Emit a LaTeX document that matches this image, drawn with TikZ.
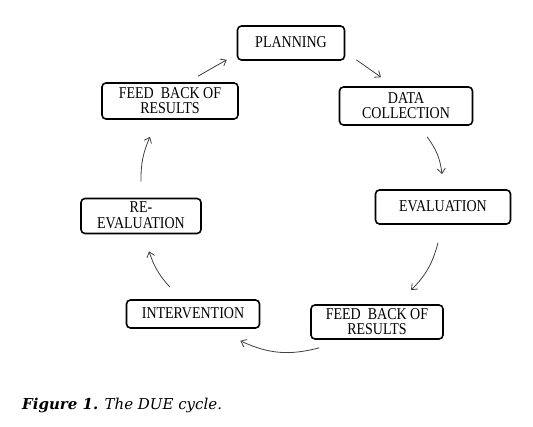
\documentclass[tikz,border=0pt]{standalone}
\usepackage{fontspec}
\setmainfont{Liberation Serif}
\newfontfamily\capfont{DejaVu Serif}
\usepackage{graphicx}
\usepackage{tikz}
\usetikzlibrary {arrows.meta, positioning}
\newcommand*{\stagetext}[1]{\raisebox{-1.5pt}[\height][\depth]{\scalebox{1}[1.18]{\begin{tabular}{@{}c@{}}#1\end{tabular}}}}

\begin{document}
\begin{tikzpicture}[x=1pt,y=-1pt,>={Straight Barb[length=5pt,width=8pt]},
      every node/.style={font=\fontsize{14}{12.6}\selectfont},
      stage/.style={draw,line width=1.6pt,rounded corners=4pt,align=center,inner sep=0pt},
      flow/.style={->,draw=black!75,line width=0.8pt}]
      \useasboundingbox (0,0) rectangle (533,427);
      \node[stage, minimum width=107pt, minimum height=34pt] (plan)   at (291,43)  {\stagetext{PLANNING}};
      \node[stage, minimum width=133pt, minimum height=38pt] (data)   at (406,106) {\stagetext{DATA\\COLLECTION}};
      \node[stage, minimum width=135pt, minimum height=34pt] (eval)   at (443,207) {\stagetext{EVALUATION}};
      \node[stage, minimum width=132pt, minimum height=34pt] (fbr)    at (377,322) {\stagetext{FEED\ \ BACK OF\\RESULTS}};
      \node[stage, minimum width=133pt, minimum height=28pt] (interv) at (193,314) {\stagetext{INTERVENTION}};
      \node[stage, minimum width=120pt, minimum height=35pt] (reeval) at (141,216) {\stagetext{RE-\\EVALUATION}};
      \node[stage, minimum width=136pt, minimum height=36pt] (fbl)    at (170,101) {\stagetext{FEED\ \ BACK OF\\RESULTS}};
      % cycle
      \draw[flow] ([shift={(28,-6)}]fbl.north) -- ([shift={(-10,-1)}]plan.south west);
      \draw[flow] ([shift={(11,-1)}]plan.south east) -- ([shift={(-25,-9)}]data.north);
      \draw[flow] ([shift={(21,11)}]data.south) to[bend left=15] ([shift={(-1,-15)}]eval.north);
      \draw[flow] ([shift={(-5,18)}]eval.south) to[bend left=15] ([shift={(34,-14)}]fbr.north);
      \draw[flow] ([shift={(9,8)}]fbr.south west) to[bend left=20] ([shift={(-20,12)}]interv.south east);
      \draw[flow] ([shift={(-23,-12)}]interv.north) to[bend left=12] ([shift={(8,17)}]reeval.south);
      \draw[flow] ([shift={(0,-16)}]reeval.north) to[bend left=12] ([shift={(-20,17)}]fbl.south);
      \node[anchor=base west, font=\capfont\fontsize{15}{17}\selectfont, inner sep=0pt] (caption) at (22,410)
        {\textbf{\textit{Figure 1.}}\textit{ The DUE cycle.}};
\end{tikzpicture}
\end{document}
